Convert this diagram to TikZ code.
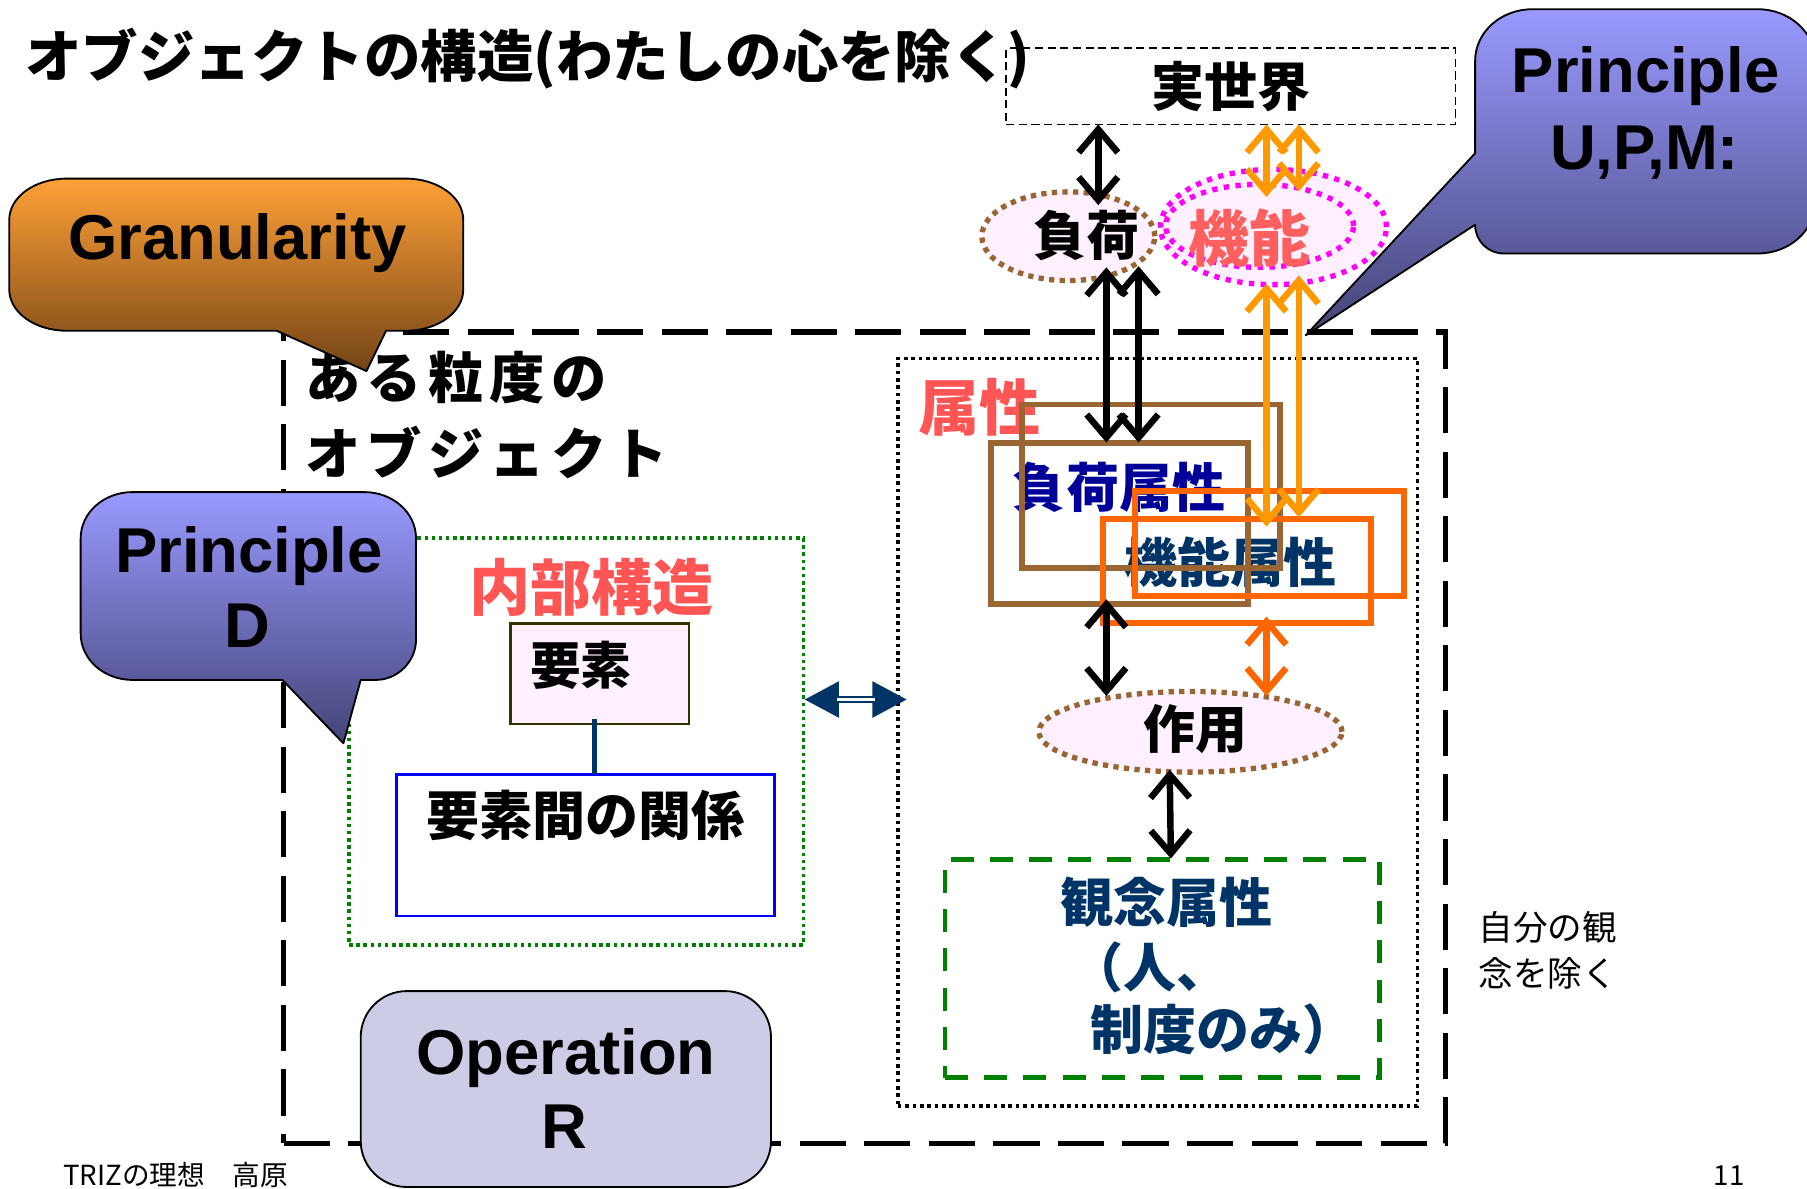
\documentclass[tikz,border=0pt]{standalone}
\usepackage{fontspec}
\setmainfont{Liberation Sans}
\newfontfamily\jp{Noto Sans CJK JP}
\usetikzlibrary{arrows.meta,shapes.geometric}
\definecolor{brn}{RGB}{153,102,51}
\definecolor{org}{RGB}{255,102,0}
\definecolor{lorg}{RGB}{255,153,0}
\definecolor{navy}{RGB}{0,51,102}
\definecolor{dblue}{RGB}{0,0,153}
\definecolor{redt}{RGB}{255,85,85}
\definecolor{funcred}{RGB}{255,95,95}
\definecolor{pinkf}{RGB}{255,240,255}
\definecolor{grn}{RGB}{0,128,0}
\definecolor{mag}{RGB}{255,0,255}
\definecolor{ptop}{RGB}{153,153,255}
\definecolor{pbot}{RGB}{68,68,119}
\definecolor{gtop}{RGB}{255,160,55}
\definecolor{gbot}{RGB}{115,68,22}
\definecolor{opf}{RGB}{204,204,230}
\definecolor{olive}{RGB}{51,51,0}
\tikzset{
  every node/.style={inner sep=0pt, outer sep=0pt},
  jb/.style={font=\jp\bfseries\fontsize{#1}{#1}\selectfont},
  jr/.style={font=\jp\fontsize{#1}{#1}\selectfont},
  lb/.style={font=\bfseries\fontsize{#1}{#1}\selectfont, anchor=base},
  arw/.style={line width=2.8pt, >={Straight Barb[length=10pt,width=17pt]}, <->},
  brownrect/.style={draw=brn, line width=2.6pt},
  orangerect/.style={draw=org, line width=2.6pt},
  brdot/.style={ellipse, draw=brn, line width=2.3pt, dash pattern=on 2.3pt off 2.3pt, fill=pinkf},
  magdot/.style={ellipse, draw=mag, line width=2.3pt, dash pattern=on 2.3pt off 2.8pt},
  calloutP/.style={draw=black, line width=0.8pt, line join=round, top color=ptop, bottom color=pbot},
  calloutG/.style={draw=black, line width=0.8pt, line join=round, top color=gtop, bottom color=gbot},
}
\begin{document}
\begin{tikzpicture}[x=0.5pt,y=-0.5pt]
\useasboundingbox (0,0) rectangle (1568,1031);

% main dashed object box
\node[draw, line width=2.3pt, dash pattern=on 20pt off 8pt, minimum width=504pt, minimum height=352pt] (mainbox) at (750,640) {};

% title
\node[jb=24.5pt, anchor=base west] (title) at (22,67) {オブジェクトの構造(わたしの心を除く)};

% object label
\node[jb=24pt, anchor=west] (objA) at (265,328) {\addfontfeature{LetterSpace=11}ある粒度の};
\node[jb=24pt, anchor=west] (objB) at (265,393) {\addfontfeature{LetterSpace=11}オブジェクト};

% real world
\node[draw, line width=0.8pt, dash pattern=on 3.5pt off 2pt, minimum width=195pt, minimum height=33pt, jb=23pt] (realw) at (1068,75) {実世界};

% load / function ellipses
\node[brdot, minimum width=75pt, minimum height=38.5pt] (loadE) at (927,205) {};
\node[jb=23pt] (loadT) at (943,204) {負荷};
\node[magdot, fill=pinkf, minimum width=98pt, minimum height=50pt] (funcE) at (1105,197) {};
\node[magdot, minimum width=81.5pt, minimum height=36pt] (funcE2) at (1093,196) {};
\node[jb=26.5pt, text=funcred] (funcT) at (1084,207) {機能};

% attribute box
\node[draw, line width=1.6pt, dash pattern=on 1.6pt off 1.6pt, minimum width=225.5pt, minimum height=324.5pt] (attrbox) at (1004.5,635.5) {};
\node[jb=26.5pt, text=redt] (attrT) at (850,353) {属性};
\node[jb=23pt, text=dblue] (loadattrT) at (971,423) {負荷属性};
\node[jb=23pt, text=navy] (funcattrT) at (1068,488) {機能属性};
\node[brownrect, minimum width=112pt, minimum height=71pt] (brA) at (999,422) {};
\node[brownrect, minimum width=111.5pt, minimum height=70pt] (brB) at (971.5,454) {};
\node[orangerect, minimum width=116.5pt, minimum height=45.5pt] (orD) at (1073.5,495.5) {};
\node[orangerect, minimum width=116.5pt, minimum height=45.5pt] (orC) at (1101.5,471.5) {};

% action
\node[brdot, minimum width=131.5pt, minimum height=35pt] (actE) at (1033,635) {};
\node[jb=22.5pt] (actT) at (1037,633) {作用};

% idea attribute
\node[draw=grn, line width=2.1pt, dash pattern=on 10pt off 7pt, minimum width=188.5pt, minimum height=94.5pt] (ideaBox) at (1008.5,840.5) {};
\node[jb=23pt, text=navy] (idea1) at (1012,783) {観念属性};
\node[jb=23pt, text=navy, anchor=west] (idea2) at (929,839) {（人、};
\node[jb=23pt, text=navy, anchor=west] (idea3) at (946,893) {制度のみ）};

\node[jr=15pt, anchor=west] (selfA) at (1283,805) {自分の観};
\node[jr=15pt, anchor=west] (selfB) at (1283,845) {念を除く};

% internal structure
\node[draw=grn, line width=1.5pt, dash pattern=on 1.5pt off 1.6pt, minimum width=197pt, minimum height=176.5pt] (inner) at (500,643.5) {};
\node[jb=26.5pt, text=redt] (innerT) at (513,510) {内部構造};
\node[draw=olive, line width=1pt, fill=pinkf, minimum width=77.5pt, minimum height=43.5pt] (elem) at (520.5,584.5) {};
\node[jb=22pt] (elemT) at (504,577) {要素};
\node[draw=blue, line width=1pt, minimum width=164pt, minimum height=61.5pt] (rel) at (508,733.5) {};
\node[jb=23pt] (relT) at (508,708) {要素間の関係};
\coordinate (link) at (516,0);
\draw[navy, line width=2pt] ([yshift=2pt]elem.south -| link) -- (rel.north -| link);

% double arrow between structure and attributes
\coordinate (dl) at (698,607);
\coordinate (dr) at (787,607);
\draw[navy, line width=3pt, >={Triangle[length=15pt,width=15pt]}, <->] (dl) -- (dr);
\draw[white, line width=0.9pt, shorten <=14pt, shorten >=14pt] (dl) -- (dr);

% arrows
\coordinate (a1t) at (953,108); \coordinate (a1b) at (953,178);
\draw[arw] (a1t) -- (a1b);
\coordinate (a2t) at (1099,108); \coordinate (a2b) at (1099,171);
\coordinate (a3t) at (1127,108); \coordinate (a3b) at (1127,166);
\draw[arw, lorg] (a2t) -- (a2b);
\draw[arw, lorg] (a3t) -- (a3b);
\coordinate (a4t) at (960,232); \coordinate (a4b) at (960,384);
\coordinate (a5t) at (988,231); \coordinate (a5b) at (988,384);
\draw[arw] (a4t) -- (a4b);
\draw[arw] (a5t) -- (a5b);
\coordinate (a6t) at (1099,246); \coordinate (a6b) at (1099,457);
\coordinate (a7t) at (1127,239); \coordinate (a7b) at (1127,449);
\draw[arw, lorg] (a6t) -- (a6b);
\draw[arw, lorg] (a7t) -- (a7b);
\coordinate (a8t) at (960,520); \coordinate (a8b) at (960,604);
\draw[arw] (a8t) -- (a8b);
\coordinate (a9t) at (1099,535); \coordinate (a9b) at (1099,604);
\draw[arw, org] (a9t) -- (a9b);
\coordinate (a10t) at (1015,668); \coordinate (a10b) at (1016,745);
\draw[arw] (a10t) -- (a10b);

% callouts
\draw[calloutG] (58,155) -- (352,155) .. controls (380,155) and (402,171) .. (402,191) -- (402,251) .. controls (402,271) and (380,287) .. (352,287) -- (335,287) -- (318,322) -- (240,287) -- (58,287) .. controls (30,287) and (8,271) .. (8,251) -- (8,191) .. controls (8,171) and (30,155) .. (58,155) -- cycle;
\node[lb=27.5pt] (granT) at (206,225) {Granularity};

\draw[calloutP] (115,427) -- (316,427) .. controls (341,427) and (361,445) .. (361,467) -- (361,555) .. controls (361,574) and (345,590) .. (326,590) -- (313,590) -- (298,645) -- (245,590) -- (115,590) .. controls (90,590) and (70,572) .. (70,550) -- (70,467) .. controls (70,445) and (90,427) .. (115,427) -- cycle;
\node[lb=27.5pt] (pdT1) at (216,497) {Principle};
\node[lb=27.5pt] (pdT2) at (215,562) {D};

\draw[calloutP] (1330,8) -- (1525,8) .. controls (1553,8) and (1575,28) .. (1575,53) -- (1575,175) .. controls (1575,200) and (1553,220) .. (1525,220) -- (1305,220) .. controls (1291,220) and (1280,209) .. (1280,195) -- (1133,291) -- (1280,133) -- (1280,53) .. controls (1280,28) and (1302,8) .. (1330,8) -- cycle;
\node[lb=27.5pt] (upT1) at (1428,80) {Principle};
\node[lb=27.5pt] (upT2) at (1427,147) {U,P,M:};

\node[draw, line width=0.8pt, fill=opf, rounded corners=20pt, minimum width=178pt, minimum height=85pt] (oper) at (491,945) {};
\node[lb=27.5pt] (opT1) at (491,932) {Operation};
\node[lb=27.5pt] (opT2) at (490,997) {R};

% footer
\node[jr=12pt, anchor=base west] (foot) at (55,1029) {TRIZの理想　高原};
\node[jr=12pt, anchor=base west] (pnum) at (1487,1029) {11};
\end{tikzpicture}
\end{document}
